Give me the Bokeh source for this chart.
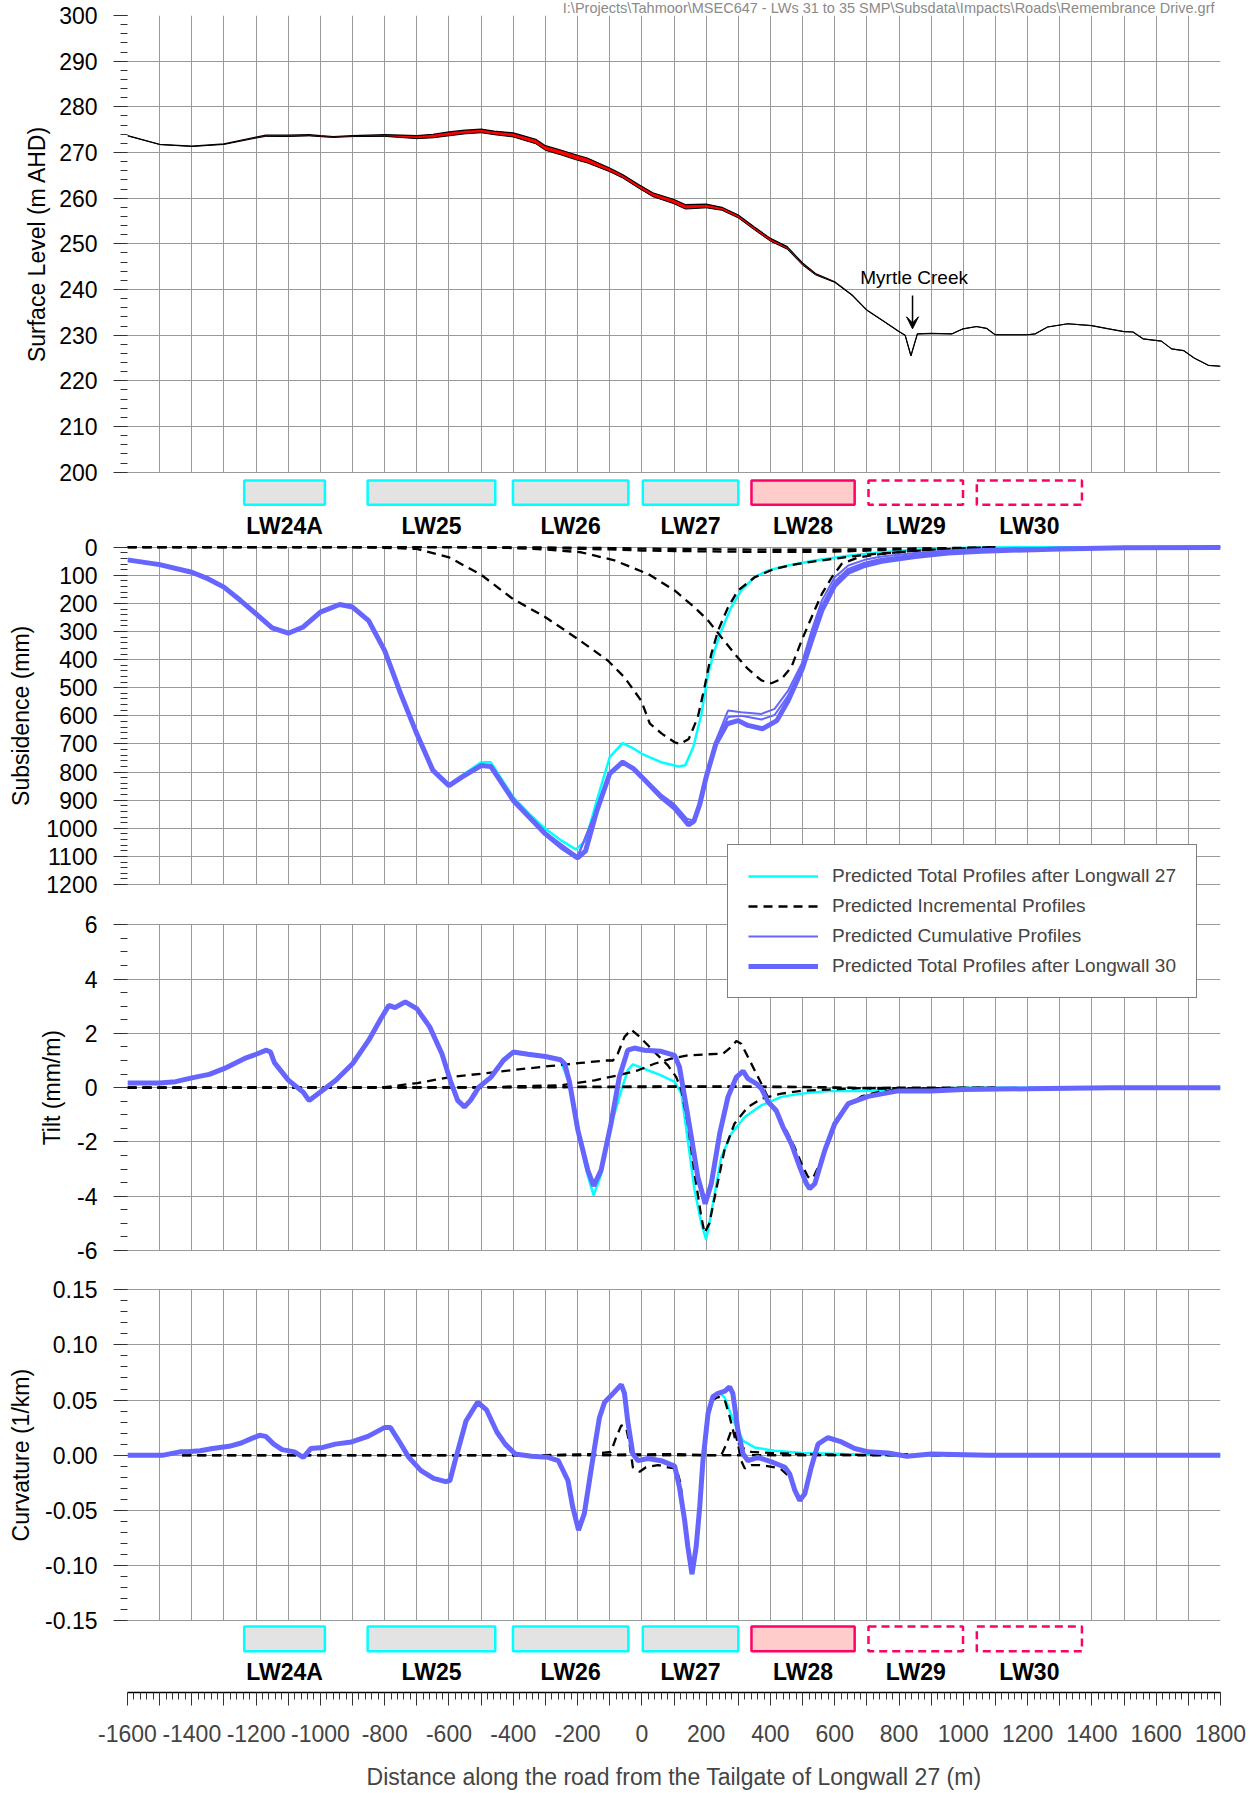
import numpy as np
from bokeh.plotting import figure
from bokeh.models import (Range1d, LinearAxis, FixedTicker, Grid, Legend, LegendItem,
                          Label, Arrow, VeeHead, ColumnDataSource, NumeralTickFormatter)
from bokeh.core.properties import value
from bokeh.embed import file_html
from bokeh.resources import INLINE

# ============================ DATA ============================
# Distance along the road (m) ticks
x_major = list(range(-1600, 1801, 100))
x_minor = list(range(-1600, 1801, 20))
x_label_ticks = list(range(-1600, 1801, 200))

# Longwall panels (distance along road, m)
lw_names = ["LW24A", "LW25", "LW26", "LW27", "LW28", "LW29", "LW30"]
lw_start = [-1237, -853, -401, 3, 341, 705, 1042]
lw_end = [-986, -456, -42, 300, 662, 999, 1369]
lw_status = ["mined", "mined", "mined", "mined", "current", "planned", "planned"]

# Surface level (m AHD) and total subsidence after LW30 at the same stations (m)
surf_x = [-1600, -1500, -1400, -1300, -1200, -1170, -1100, -1035, -1000, -960,
          -900, -800, -700, -650, -600, -550, -500, -460, -400, -370,
          -330, -300, -250, -200, -170, -100, -60, -10, 34, 100,
          135, 200, 249, 300, 350, 400, 452, 500, 540, 600,
          654, 700, 756, 800, 819, 837, 857, 900, 965, 999,
          1041, 1072, 1099, 1199, 1224, 1262, 1325, 1399, 1452, 1499,
          1528, 1559, 1616, 1648, 1686, 1718, 1762, 1800]
surf_level = [273.7, 271.8, 271.4, 271.9, 273.4, 273.8, 273.8, 273.9, 273.7, 273.5,
              273.7, 273.9, 273.7, 274.0, 274.5, 274.9, 275.1, 274.7, 274.3, 273.7,
              272.9, 271.5, 270.5, 269.4, 268.8, 266.6, 265.2, 263.0, 261.2, 259.7,
              258.6, 258.7, 258.0, 256.3, 253.7, 251.2, 249.4, 245.8, 243.5, 241.7,
              238.8, 235.5, 232.9, 230.8, 230.0, 225.5, 230.3, 230.4, 230.3, 231.4,
              231.9, 231.5, 230.1, 230.1, 230.3, 231.8, 232.5, 232.1, 231.4, 230.8,
              230.7, 229.2, 228.7, 227.0, 226.6, 225.0, 223.4, 223.2]
surf_subs = [0.045, 0.062, 0.089, 0.142, 0.237, 0.27, 0.306, 0.26, 0.231, 0.21,
             0.213, 0.368, 0.664, 0.79, 0.848, 0.815, 0.777, 0.79, 0.901, 0.94,
             0.99, 1.02, 1.068, 1.105, 1.07, 0.806, 0.765, 0.80, 0.86, 0.926,
             0.975, 0.818, 0.65, 0.618, 0.64, 0.62, 0.56, 0.44, 0.29, 0.136,
             0.085, 0.063, 0.049, 0.043, 0.04, 0.038, 0.036, 0.03, 0.022, 0.019,
             0.016, 0.014, 0.013, 0.009, 0.008, 0.007, 0.006, 0.004, 0.003, 0.002,
             0.002, 0.002, 0.001, 0.001, 0.001, 0.001, 0.001, 0.001]
creek_x = 842
creek_name = "Myrtle Creek"
file_path = "I:\\Projects\\Tahmoor\\MSEC647 - LWs 31 to 35 SMP\\Subsdata\\Impacts\\Roads\\Remembrance Drive.grf"

# ---------------- Subsidence (mm) ----------------
sub_x = [-1600, -1500, -1400, -1350, -1300, -1250, -1200, -1150, -1100, -1055,
         -1000, -940, -900, -850, -800, -750, -700, -650, -600, -560,
         -500, -470, -400, -350, -300, -250, -200, -175, -140, -100,
         -60, -25, 0, 60, 100, 125, 145, 162, 180, 200,
         230, 265, 300, 330, 375, 420, 455, 497, 528, 560,
         600, 642, 693, 746, 850, 953, 1057, 1300, 1500, 1800]
sub_total = [45, 62, 89, 112, 142, 188, 237, 287, 306, 285,
             231, 204, 213, 261, 368, 522, 664, 794, 848, 818,
             777, 780, 901, 961, 1020, 1067, 1105, 1080, 937, 806,
             765, 789, 818, 889, 926, 960, 988, 975, 915, 818,
             700, 628, 617, 634, 646, 617, 546, 439, 332, 225,
             136, 89, 65, 50, 33, 21, 14, 6, 2, 1]
sub_lw27_x = [-1600, -1500, -1400, -1350, -1300, -1250, -1200, -1150, -1100, -1055,
              -1000, -940, -900, -850, -800, -750, -700, -650, -600, -560,
              -500, -470, -400, -350, -300, -250, -205, -175, -140, -100,
              -60, -25, 0, 60, 115, 135, 160, 185, 206, 226,
              247, 278, 309, 350, 392, 455, 538, 642, 746, 850,
              953, 1057, 1300, 1800]
sub_lw27 = [45, 62, 89, 112, 142, 188, 237, 287, 306, 285,
            231, 204, 213, 261, 368, 522, 664, 794, 846, 812,
            765, 765, 889, 949, 1002, 1044, 1075, 1044, 901, 747,
            697, 717, 735, 765, 780, 776, 711, 595, 451, 368,
            297, 214, 154, 107, 83, 65, 47, 30, 18, 9,
            4, 1, 0, 0]
cum_x = [-600, -500, -470, -400, -300, -200, -140, -100, -60, 0,
         60, 100, 140, 160, 180, 200, 230, 268, 309, 372,
         413, 455, 497, 528, 560, 600, 642, 693, 746, 850,
         953, 1057, 1300, 1800]
sub_cum28 = [846, 775, 777, 895, 1015, 1100, 930, 800, 760, 812,
             880, 913, 966, 972, 915, 806, 688, 581, 587, 593,
             575, 510, 415, 297, 190, 107, 65, 45, 33, 21,
             12, 6, 2, 0]
sub_cum29 = [847, 776, 779, 898, 1018, 1103, 934, 803, 763, 815,
             884, 920, 976, 982, 920, 812, 694, 604, 600, 613,
             597, 528, 427, 315, 208, 122, 77, 55, 41, 27,
             16, 10, 4, 0]
inc27_x = [-1600, -900, -800, -700, -600, -500, -400, -300, -200, -106,
           -54, -2, 25, 63, 102, 120, 146, 174, 195, 216,
           237, 268, 299, 351, 413, 486, 590, 694, 797, 901,
           1005, 1100]
sub_inc27 = [0, 0, 2, 6, 36, 98, 185, 249, 326, 403,
             463, 546, 628, 664, 694, 700, 682, 605, 498, 380,
             297, 214, 154, 107, 77, 59, 42, 27, 18, 9,
             4, 0]
inc28_x = [-1600, -500, -400, -300, -189, -85, 19, 102, 164, 206,
           247, 289, 330, 372, 403, 434, 465, 497, 528, 560,
           591, 622, 674, 746, 850, 953, 1100]
sub_inc28 = [0, 0, 3, 8, 18, 47, 95, 154, 214, 261,
             320, 380, 433, 474, 484, 469, 427, 332, 249, 166,
             107, 59, 36, 24, 12, 6, 2]
inc2930_x = [-1600, -600, -300, -100, 0, 200, 400, 600, 700, 800, 900, 1000, 1100]
sub_inc29 = [0, 0, 3, 8, 12, 15, 17, 16, 12, 8, 5, 3, 1]
sub_inc30 = [0, 0, 1, 3, 5, 7, 9, 9, 7, 5, 4, 2, 1]

# ---------------- Tilt (mm/m) ----------------
tilt_x = [-1600, -1500, -1450, -1400, -1346, -1300, -1231, -1200, -1168, -1155,
          -1143, -1099, -1054, -1035, -1000, -952, -900, -850, -812, -787,
          -768, -736, -700, -660, -622, -596, -573, -552, -533, -507,
          -469, -431, -400, -354, -300, -253, -240, -225, -199, -168,
          -150, -127, -96, -70, -44, -23, 8, 60, 102, 117,
          133, 154, 174, 197, 216, 242, 268, 294, 315, 330,
          356, 372, 393, 418, 439, 465, 491, 512, 522, 538,
          569, 600, 642, 704, 797, 900, 1000, 1200, 1458, 1800]
tilt_total = [0.17, 0.17, 0.22, 0.36, 0.49, 0.70, 1.10, 1.23, 1.38, 1.31,
              0.92, 0.27, -0.16, -0.47, -0.16, 0.27, 0.88, 1.74, 2.54, 3.03,
              2.95, 3.16, 2.91, 2.24, 1.25, 0.27, -0.47, -0.71, -0.47, 0.02,
              0.39, 1.0, 1.31, 1.23, 1.15, 1.03, 0.88, 0.2, -1.57, -3.05,
              -3.62, -3.05, -1.33, 0.39, 1.38, 1.46, 1.38, 1.34, 1.19, 0.76,
              -0.34, -1.82, -3.29, -4.28, -3.54, -1.70, -0.34, 0.39, 0.61, 0.33,
              0.15, -0.04, -0.53, -0.84, -1.45, -2.06, -2.92, -3.54, -3.72, -3.54,
              -2.31, -1.33, -0.59, -0.32, -0.12, -0.12, -0.07, -0.04, 0, 0]
tilt_lw27_x = [-1600, -1500, -1450, -1400, -1346, -1300, -1231, -1200, -1168, -1155,
               -1143, -1099, -1054, -1035, -1000, -952, -900, -850, -812, -787,
               -768, -736, -700, -660, -622, -596, -573, -552, -533, -507,
               -469, -431, -400, -354, -300, -253, -225, -199, -168, -150,
               -127, -96, -64, -44, -28, 19, 60, 102, 123, 143,
               164, 185, 200, 221, 247, 278, 320, 372, 434, 496,
               579, 697, 797, 1014, 1800]
tilt_lw27 = [0.17, 0.17, 0.22, 0.36, 0.49, 0.70, 1.10, 1.23, 1.38, 1.31,
             0.92, 0.27, -0.16, -0.47, -0.16, 0.27, 0.88, 1.74, 2.54, 3.03,
             2.95, 3.16, 2.91, 2.24, 1.25, 0.27, -0.47, -0.71, -0.47, 0.02,
             0.39, 1.0, 1.28, 1.20, 1.12, 1.0, 0.15, -1.65, -3.25, -3.97,
             -3.2, -1.4, -0.1, 0.64, 0.86, 0.64, 0.45, 0.21, -0.22, -1.94,
             -3.78, -5.0, -5.6, -4.28, -2.56, -1.70, -1.08, -0.65, -0.34, -0.22,
             -0.12, -0.12, -0.05, 0, 0]
tinc27_x = [-1600, -900, -800, -698, -596, -495, -393, -291, -190, -113,
            -90, -75, -54, -33, -12, 19, 50, 81, 107, 123,
            143, 164, 185, 195, 210, 231, 257, 288, 330, 372,
            434, 496, 579, 683, 800, 1100]
tilt_inc27 = [0, 0, 0.02, 0.17, 0.39, 0.52, 0.66, 0.79, 0.91, 1.0,
              1.0, 1.25, 1.87, 2.14, 1.93, 1.56, 1.19, 0.82, 0.39, -0.1,
              -1.33, -3.17, -4.77, -5.35, -5.0, -3.78, -2.31, -1.33, -0.71, -0.41,
              -0.22, -0.12, -0.07, -0.02, 0, 0]
tinc28_x = [-1600, -500, -393, -251, -147, -75, -12, 39, 91, 143,
            206, 252, 278, 294, 309, 330, 356, 377, 397, 423,
            449, 475, 501, 517, 532, 553, 579, 610, 642, 683,
            735, 797, 900, 1100]
tilt_inc28 = [0, 0, 0.05, 0.09, 0.27, 0.45, 0.64, 0.88, 1.07, 1.19,
              1.23, 1.25, 1.5, 1.72, 1.62, 1.13, 0.52, 0.02, -0.47, -1.08,
              -1.57, -2.19, -2.92, -3.29, -3.35, -2.8, -1.94, -1.2, -0.65, -0.32,
              -0.16, -0.07, -0.02, 0]
tinc2930_x = [-1600, -400, -100, 200, 500, 700, 900, 1100]
tilt_inc29 = [0, 0.02, 0.04, 0.05, 0.03, -0.03, -0.05, -0.02]
tilt_inc30 = [0, 0.01, 0.02, 0.03, 0.02, -0.01, -0.03, -0.01]

# ---------------- Curvature (1/km) ----------------
curv_x = [-1600, -1488, -1437, -1412, -1374, -1335, -1284, -1246, -1215, -1189,
          -1170, -1145, -1119, -1081, -1053, -1030, -992, -954, -903, -852,
          -801, -782, -756, -725, -687, -648, -610, -597, -578, -547,
          -511, -483, -451, -425, -394, -343, -292, -260, -230, -215,
          -197, -179, -163, -147, -132, -116, -96, -80, -64, -54,
          -44, -28, -12, 19, 60, 102, 117, 133, 143, 156,
          169, 180, 190, 206, 221, 237, 258, 273, 283, 299,
          315, 330, 361, 403, 445, 460, 476, 491, 507, 527,
          548, 579, 621, 662, 704, 766, 824, 900, 1077, 1800]
curv_total = [0, 0, 0.003, 0.003, 0.004, 0.006, 0.008, 0.011, 0.015, 0.018,
              0.017, 0.010, 0.005, 0.003, -0.002, 0.006, 0.007, 0.010, 0.012, 0.017,
              0.025, 0.025, 0.013, -0.002, -0.014, -0.021, -0.024, -0.023, -0.002, 0.031,
              0.048, 0.041, 0.021, 0.010, 0.001, -0.001, -0.002, -0.005, -0.023, -0.047,
              -0.068, -0.053, -0.023, 0.007, 0.034, 0.048, 0.054, 0.059, 0.064, 0.056,
              0.031, 0.001, -0.005, -0.003, -0.005, -0.010, -0.029, -0.059, -0.083, -0.108,
              -0.083, -0.047, -0.005, 0.038, 0.053, 0.056, 0.058, 0.062, 0.056, 0.022,
              0.001, -0.005, -0.002, -0.006, -0.011, -0.017, -0.032, -0.041, -0.035, -0.011,
              0.010, 0.016, 0.012, 0.006, 0.003, 0.002, -0.001, 0.001, 0, 0]
curv_lw27_x = [-1600, -1488, -1437, -1412, -1374, -1335, -1284, -1246, -1215, -1189,
               -1170, -1145, -1119, -1081, -1053, -1030, -992, -954, -903, -852,
               -801, -782, -756, -725, -687, -648, -610, -597, -578, -547,
               -511, -483, -451, -425, -394, -343, -292, -260, -230, -215,
               -197, -179, -163, -147, -132, -116, -96, -80, -64, -54,
               -44, -28, -12, 19, 60, 102, 117, 133, 143, 156,
               169, 180, 190, 206, 221, 241, 258, 272, 290, 304,
               315, 351, 413, 496, 631, 800, 1800]
curv_lw27 = [0, 0, 0.003, 0.003, 0.004, 0.006, 0.008, 0.011, 0.015, 0.018,
             0.017, 0.010, 0.005, 0.003, -0.002, 0.006, 0.007, 0.010, 0.012, 0.017,
             0.025, 0.025, 0.013, -0.002, -0.014, -0.021, -0.024, -0.023, -0.002, 0.031,
             0.048, 0.041, 0.021, 0.010, 0.001, -0.001, -0.002, -0.005, -0.023, -0.047,
             -0.068, -0.053, -0.023, 0.007, 0.034, 0.048, 0.054, 0.059, 0.064, 0.056,
             0.031, 0.001, -0.005, -0.003, -0.005, -0.010, -0.029, -0.059, -0.083, -0.108,
             -0.083, -0.047, -0.005, 0.038, 0.053, 0.057, 0.052, 0.041, 0.028, 0.019,
             0.013, 0.007, 0.004, 0.002, 0.001, 0, 0]
cinc27_x = [-1430, -800, -300, -150, -96, -80, -64, -49, -38, -28,
            -7, 13, 50, 81, 107, 120, 133, 145, 156, 169,
            180, 190, 206, 221, 237, 258, 273, 290, 310, 340,
            400, 500, 700, 1100]
curv_inc27 = [0, 0, 0, 0.001, 0.003, 0.016, 0.027, 0.025, 0.010, -0.011,
              -0.015, -0.011, -0.009, -0.011, -0.012, -0.025, -0.06, -0.085, -0.105, -0.085,
              -0.047, -0.005, 0.035, 0.05, 0.053, 0.05, 0.035, 0.015, 0.007, 0.003,
              0.002, 0.001, 0, 0]
cinc28_x = [-1430, -300, 100, 200, 247, 263, 278, 289, 299, 309,
            320, 340, 372, 413, 434, 460, 491, 507, 527, 548,
            579, 621, 662, 704, 800, 1100]
curv_inc28 = [0, 0, 0.001, 0, 0, 0.010, 0.022, 0.022, 0.010, -0.005,
              -0.012, -0.009, -0.009, -0.011, -0.013, -0.02, -0.04, -0.035, -0.011, 0.010,
              0.015, 0.011, 0.006, 0.003, 0.001, 0]
cinc2930_x = [-1430, 1100]
curv_inc29 = [0, 0]
curv_inc30 = [0, 0]

for xs, ys in [(surf_x, surf_level), (surf_x, surf_subs), (sub_x, sub_total), (sub_lw27_x, sub_lw27),
               (cum_x, sub_cum28), (cum_x, sub_cum29), (inc27_x, sub_inc27), (inc28_x, sub_inc28),
               (inc2930_x, sub_inc29), (inc2930_x, sub_inc30), (tilt_x, tilt_total),
               (tilt_lw27_x, tilt_lw27), (tinc27_x, tilt_inc27), (tinc28_x, tilt_inc28),
               (tinc2930_x, tilt_inc29), (tinc2930_x, tilt_inc30), (curv_x, curv_total),
               (curv_lw27_x, curv_lw27), (cinc27_x, curv_inc27), (cinc28_x, curv_inc28)]:
    assert len(xs) == len(ys), (len(xs), len(ys), xs[:3])

# ============================ LAYOUT / STYLE ============================
FONT = "Liberation Sans"
FRAME_LEFT = 127          # page x of plot frame left edge
FRAME_W = 1093
FRAME_TOP = 15.0          # page y of frame top
FRAME_H = 1677
FRAME_BOTTOM = FRAME_TOP + FRAME_H

GRID = "#9a9a9a"
BLUE = "#6666ff"
CYAN = "#00ffff"
TICK_FS = "23px"

# (value at top, value at bottom, page y top, page y bottom)
PANELS = {
    "surf": (300, 200, 15.0, 471.7),
    "sub": (0, 1200, 546.7, 884.0),
    "tilt": (6, -6, 924.3, 1250.0),
    "curv": (0.15, -0.15, 1289.3, 1620.0),
    "bars1": (1, 0, 480.0, 504.3),
    "bars2": (1, 0, 1626.0, 1650.7),
}
BAR_LABEL_PY = {"bars1": 525.7, "bars2": 1671.7}


def band(v_top, v_bot, py_top, py_bot):
    k = (v_bot - v_top) / (py_bot - py_top)
    return Range1d(start=v_bot + k * (FRAME_BOTTOM - py_bot), end=v_top - k * (py_top - FRAME_TOP))


def to_val(name, py):
    v_top, v_bot, py_top, py_bot = PANELS[name]
    return v_top + (v_bot - v_top) / (py_bot - py_top) * (py - py_top)


def to_page(name, v):
    v_top, v_bot, py_top, py_bot = PANELS[name]
    return py_top + (py_bot - py_top) / (v_bot - v_top) * (v - v_top)


ranges = {k: band(*v) for k, v in PANELS.items()}
ranges["page"] = Range1d(start=FRAME_BOTTOM, end=FRAME_TOP)   # page-pixel scale for the left axes
RN = {"surf": "default", "sub": "sub", "tilt": "tilt", "curv": "curv",
      "bars1": "bars1", "bars2": "bars2", "page": "page"}

p = figure(frame_width=FRAME_W, frame_height=FRAME_H,
           x_range=Range1d(-1600, 1800), y_range=ranges["surf"],
           output_backend="svg", toolbar_location=None, y_axis_location=None,
           min_border_left=FRAME_LEFT, min_border_right=30,
           min_border_top=int(FRAME_TOP), min_border_bottom=0)
p.extra_y_ranges = {k: r for k, r in ranges.items() if k != "surf"}
p.outline_line_color = None
p.background_fill_color = "white"
p.border_fill_color = "white"
p.center = [r for r in p.center if not isinstance(r, Grid)]

p.title.text = file_path
p.title.align = "right"
p.title.vertical_align = "top"
p.title.text_font = FONT
p.title.text_font_size = "14.5px"
p.title.text_font_style = "normal"
p.title.text_color = "#8a8a8a"
p.title.standoff = -5
p.title.offset = 6

# ---------------- grids and left axes ----------------
axis_specs = {
    "surf": ([200 + 10 * i for i in range(11)], [200 + 2 * i for i in range(51)], "{:.0f}"),
    "sub": ([100 * i for i in range(13)], [20 * i for i in range(61)], "{:.0f}"),
    "tilt": ([-6 + 2 * i for i in range(7)], [-6 + 0.5 * i for i in range(25)], "{:.0f}"),
    "curv": ([round(-0.15 + 0.05 * i, 2) for i in range(7)],
             [round(-0.15 + 0.01 * i, 2) for i in range(31)], "{:.2f}"),
}
axis_titles = {
    "surf": "Surface Level (m AHD)",
    "sub": "Subsidence (mm)",
    "tilt": "Tilt (mm/m)",
    "curv": "Curvature (1/km)",
}
# panels with wider tick labels get their title set further out (in text lines)
title_outset = {"surf": 1, "sub": 2, "tilt": 0, "curv": 2}

tick_pos, tick_text, minor_pos = [], {}, []
title_pos, title_text = [], {}
for name, (major, minor, fmt) in axis_specs.items():
    v_top, v_bot, py_top, py_bot = PANELS[name]
    lo, hi = min(v_top, v_bot), max(v_top, v_bot)
    p.add_layout(Grid(dimension=0, ticker=FixedTicker(ticks=x_major), y_range_name=RN[name],
                      cross_bounds=(lo, hi), grid_line_color=GRID, grid_line_width=1))
    p.add_layout(Grid(dimension=1, ticker=FixedTicker(ticks=major), y_range_name=RN[name],
                      grid_line_color=GRID, grid_line_width=1))
    # black axis line at the left edge of the panel
    p.add_layout(Grid(dimension=0, ticker=FixedTicker(ticks=[x_major[0]]), y_range_name=RN[name],
                      cross_bounds=(lo, hi), grid_line_color="black", grid_line_width=1.5))
    for v in major:
        y = to_page(name, v)
        tick_pos.append(y)
        tick_text[y] = fmt.format(v + 0.0)
    minor_pos += [to_page(name, v) for v in minor]
    yc = (py_top + py_bot) / 2
    title_pos.append(yc)
    title_text[yc] = axis_titles[name] + "\n" * title_outset[name]

ax = LinearAxis(y_range_name="page", ticker=FixedTicker(ticks=tick_pos, minor_ticks=minor_pos),
                major_label_overrides=tick_text)
ax.axis_line_color = None
ax.major_tick_out = 14
ax.major_tick_in = 0
ax.minor_tick_out = 7
ax.minor_tick_in = 0
ax.major_tick_line_color = "#333333"
ax.minor_tick_line_color = "#333333"
ax.major_label_text_font = FONT
ax.major_label_text_font_size = TICK_FS
ax.major_label_text_color = "black"
ax.major_label_standoff = 16
p.add_layout(ax, "left")

tax = LinearAxis(y_range_name="page", ticker=FixedTicker(ticks=title_pos, minor_ticks=[]),
                 major_label_overrides=title_text, major_label_orientation="parallel")
tax.axis_line_color = None
tax.major_tick_line_color = None
tax.minor_tick_line_color = None
tax.major_tick_out = 0
tax.major_tick_in = 0
tax.minor_tick_out = 0
tax.minor_tick_in = 0
tax.major_label_text_font = FONT
tax.major_label_text_font_size = TICK_FS
tax.major_label_text_color = "black"
tax.major_label_text_line_height = 0.6
tax.major_label_standoff = -23
p.add_layout(tax, "left")

# ---------------- bottom axis ----------------
xa = p.below[0]
xa.ticker = FixedTicker(ticks=x_major, minor_ticks=x_minor)
xa.formatter = NumeralTickFormatter(format="0")
xa.major_label_overrides = {t: "" for t in x_major if t not in x_label_ticks}
xa.axis_line_color = "black"
xa.axis_line_width = 1.5
xa.major_tick_out = 13
xa.major_tick_in = 0
xa.minor_tick_out = 7
xa.minor_tick_in = 0
xa.major_tick_line_color = "#333333"
xa.minor_tick_line_color = "#333333"
xa.major_label_text_font = FONT
xa.major_label_text_font_size = TICK_FS
xa.major_label_standoff = 19
xa.axis_label = "Distance along the road from the Tailgate of Longwall 27 (m)"
xa.axis_label_text_font = FONT
xa.axis_label_text_font_size = TICK_FS
xa.axis_label_text_font_style = "normal"
xa.axis_label_standoff = 19

# ---------------- longwall panel rows ----------------
LW_STYLE = {
    "mined": dict(fill_color="#e3e3e3", line_color=CYAN, line_dash="solid"),
    "current": dict(fill_color="#ffcccc", line_color="#ff0066", line_dash="solid"),
    "planned": dict(fill_color=None, line_color="#ff0066", line_dash="8 5"),
}
for row in ("bars1", "bars2"):
    for status, st in LW_STYLE.items():
        idx = [i for i, s in enumerate(lw_status) if s == status]
        src = ColumnDataSource(dict(left=[lw_start[i] for i in idx], right=[lw_end[i] for i in idx]))
        p.quad(left="left", right="right", bottom=0, top=1, source=src, y_range_name=row,
               line_width=2.5, **st)
    lab = ColumnDataSource(dict(x=[(a + b) / 2 for a, b in zip(lw_start, lw_end)],
                                y=[to_val(row, BAR_LABEL_PY[row])] * len(lw_names),
                                text=lw_names))
    p.text(x="x", y="y", text="text", source=lab, y_range_name=row,
           text_font=value(FONT), text_font_style="bold", text_font_size="23px",
           text_align="center", text_baseline="middle", text_color="black")

# ---------------- surface level ----------------
surf_post = [a - b for a, b in zip(surf_level, surf_subs)]
p.varea(x=surf_x, y1=surf_level, y2=surf_post, fill_color="#ff0000")
p.line(surf_x, surf_level, line_color="black", line_width=1.2)
p.line(surf_x, surf_post, line_color="black", line_width=1)
p.add_layout(Arrow(end=VeeHead(size=12, fill_color="black", line_color="black"),
                   x_start=creek_x, y_start=to_val("surf", 295.0),
                   x_end=creek_x, y_end=to_val("surf", 328.3),
                   line_color="black", line_width=1.5))
p.add_layout(Label(x=creek_x + 5, y=to_val("surf", 276.7), text=creek_name,
                   text_align="center", text_baseline="middle",
                   text_font=FONT, text_font_size="19px", text_color="black"))

# ---------------- profiles ----------------
DASH = dict(line_color="black", line_width=2.3, line_dash="9 6")

r_cyan = p.line(sub_lw27_x, sub_lw27, y_range_name="sub", line_color=CYAN, line_width=2.5)
r_inc = p.line(inc27_x, sub_inc27, y_range_name="sub", **DASH)
p.line(inc28_x, sub_inc28, y_range_name="sub", **DASH)
p.line(inc2930_x, sub_inc29, y_range_name="sub", **DASH)
p.line(inc2930_x, sub_inc30, y_range_name="sub", **DASH)
r_cum = p.line(cum_x, sub_cum28, y_range_name="sub", line_color=BLUE, line_width=2)
p.line(cum_x, sub_cum29, y_range_name="sub", line_color=BLUE, line_width=2)
r_tot = p.line(sub_x, sub_total, y_range_name="sub", line_color=BLUE, line_width=5)

p.line(tilt_lw27_x, tilt_lw27, y_range_name="tilt", line_color=CYAN, line_width=2.5)
p.line(tinc27_x, tilt_inc27, y_range_name="tilt", **DASH)
p.line(tinc28_x, tilt_inc28, y_range_name="tilt", **DASH)
p.line(tinc2930_x, tilt_inc29, y_range_name="tilt", **DASH)
p.line(tinc2930_x, tilt_inc30, y_range_name="tilt", **DASH)
p.line(tilt_x, tilt_total, y_range_name="tilt", line_color=BLUE, line_width=5)

p.line(curv_lw27_x, curv_lw27, y_range_name="curv", line_color=CYAN, line_width=2.5)
p.line(cinc27_x, curv_inc27, y_range_name="curv", **DASH)
p.line(cinc28_x, curv_inc28, y_range_name="curv", **DASH)
p.line(cinc2930_x, curv_inc29, y_range_name="curv", **DASH)
p.line(cinc2930_x, curv_inc30, y_range_name="curv", **DASH)
p.line(curv_x, curv_total, y_range_name="curv", line_color=BLUE, line_width=5)

# ---------------- legend ----------------
legend = Legend(items=[
    LegendItem(label="Predicted Total Profiles after Longwall 27", renderers=[r_cyan]),
    LegendItem(label="Predicted Incremental Profiles", renderers=[r_inc]),
    LegendItem(label="Predicted Cumulative Profiles", renderers=[r_cum]),
    LegendItem(label="Predicted Total Profiles after Longwall 30", renderers=[r_tot]),
], location=(727 - FRAME_LEFT, FRAME_BOTTOM - 998))
legend.margin = 0
legend.padding = 20
legend.spacing = 8
legend.glyph_width = 70
legend.glyph_height = 20
legend.label_height = 20
legend.label_standoff = 14
legend.label_text_font = FONT
legend.label_text_font_size = "19px"
legend.border_line_color = "black"
legend.border_line_width = 1
legend.background_fill_color = "white"
legend.background_fill_alpha = 1.0
p.add_layout(legend)

open("out.html", "w").write(file_html(p, INLINE))
